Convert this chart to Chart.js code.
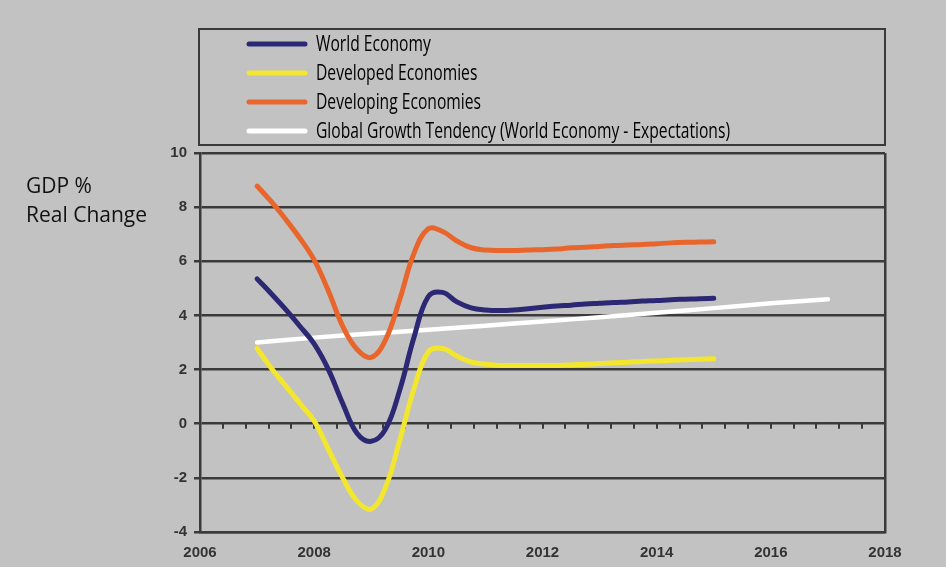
<!DOCTYPE html>
<html>
<head>
<meta charset="utf-8">
<script src="https://cdn.jsdelivr.net/npm/chart.js@4.4.1/dist/chart.umd.min.js"></script>
<style>
  html, body { margin: 0; padding: 0; background: #c2c2c2; }
  #wrap { width: 946px; height: 567px; }
</style>
</head>
<body>
<div id="wrap"><canvas id="c" width="946" height="567"></canvas></div>
<script>
// Quarterly sample points for the three GDP series
const years = [
  2007, 2007.25, 2007.5, 2007.75, 2008, 2008.25, 2008.5, 2008.75,
  2009, 2009.25, 2009.5, 2009.75, 2010, 2010.25, 2010.5, 2010.75,
  2011, 2011.25, 2011.5, 2011.75, 2012, 2012.25, 2012.5, 2012.75,
  2013, 2013.25, 2013.5, 2013.75, 2014, 2014.25, 2014.5, 2014.75, 2015
];
const worldEconomy = [
  5.35, 4.8, 4.22, 3.6, 2.95, 2.0, 0.75, -0.35,
  -0.65, -0.2, 1.25, 3.2, 4.7, 4.85, 4.5, 4.28,
  4.2, 4.18, 4.2, 4.25, 4.3, 4.35, 4.38, 4.42,
  4.45, 4.48, 4.5, 4.53, 4.55, 4.58, 4.6, 4.62, 4.63
];
const developedEconomies = [
  2.78, 2.05, 1.4, 0.75, 0.1, -0.95, -2.0, -2.85,
  -3.15, -2.35, -0.6, 1.3, 2.65, 2.78, 2.5, 2.28,
  2.2, 2.15, 2.15, 2.15, 2.15, 2.15, 2.17, 2.2,
  2.22, 2.25, 2.27, 2.3, 2.32, 2.34, 2.36, 2.38, 2.4
];
const developingEconomies = [
  8.78, 8.2, 7.55, 6.85, 6.05, 4.9, 3.6, 2.75,
  2.45, 3.1, 4.6, 6.3, 7.2, 7.1, 6.75, 6.5,
  6.42, 6.4, 6.4, 6.42, 6.43, 6.45, 6.5, 6.52,
  6.55, 6.58, 6.6, 6.62, 6.65, 6.68, 6.7, 6.71, 6.72
];
// Yearly expectation trend
const trendYears = [2007, 2008, 2009, 2010, 2011, 2012, 2013, 2014, 2015, 2016, 2017];
const globalTendency = [3.0, 3.18, 3.33, 3.47, 3.62, 3.78, 3.93, 4.1, 4.27, 4.45, 4.6];

const seriesLabels = [
  'World Economy',
  'Developed Economies',
  'Developing Economies',
  'Global Growth Tendency (World Economy - Expectations)'
];
const xTicks = [2006, 2008, 2010, 2012, 2014, 2016, 2018];
const yTicks = [-4, -2, 0, 2, 4, 6, 8, 10];
const axisTitle = ['GDP %', 'Real Change'];

const BG = '#c2c2c2';
const DARK = '#3a3a3a';

const toPoints = (xs, ys) => xs.map((x, i) => ({ x: x, y: ys[i] }));

const lineStyle = {
  borderWidth: 5,
  pointRadius: 0,
  tension: 0.4,
  fill: false,
  borderCapStyle: 'round',
  borderJoinStyle: 'round'
};

// Page background
const backgroundPlugin = {
  id: 'pageBackground',
  beforeDraw(chart) {
    const ctx = chart.ctx;
    ctx.save();
    ctx.fillStyle = BG;
    ctx.fillRect(0, 0, chart.width, chart.height);
    ctx.restore();
  }
};

// Small tick marks along the zero line, every 0.4 years
const zeroTicksPlugin = {
  id: 'zeroTicks',
  beforeDatasetsDraw(chart) {
    const xs = chart.scales.x, ys = chart.scales.y;
    const ctx = chart.ctx;
    const y0 = ys.getPixelForValue(0);
    ctx.save();
    ctx.strokeStyle = DARK;
    ctx.lineWidth = 2;
    for (let k = 1; k < 30; k++) {
      const v = 2006 + k * 0.4;
      if (v >= 2018) break;
      const px = Math.round(xs.getPixelForValue(v));
      ctx.beginPath();
      ctx.moveTo(px, y0);
      ctx.lineTo(px, y0 + 5);
      ctx.stroke();
    }
    ctx.restore();
  }
};

// Boxed legend above the plot and the vertical axis caption
const legendPlugin = {
  id: 'boxLegend',
  afterDraw(chart) {
    const ctx = chart.ctx;
    const area = chart.chartArea;
    ctx.save();
    // frame
    const bx = area.left - 1, by = 29, bw = area.right - area.left + 1, bh = 116;
    ctx.strokeStyle = DARK;
    ctx.lineWidth = 2;
    ctx.strokeRect(bx, by, bw, bh);

    ctx.font = '500 20px "Open Sans"';
    ctx.textBaseline = 'middle';
    ctx.fillStyle = '#000';
    const longest = ctx.measureText(seriesLabels[3]).width;
    const sx = 414 / longest;
    chart.data.datasets.forEach((ds, i) => {
      const cy = 44 + i * 29;
      ctx.strokeStyle = ds.borderColor;
      ctx.lineWidth = 5;
      ctx.lineCap = 'round';
      ctx.beginPath();
      ctx.moveTo(249, cy);
      ctx.lineTo(305, cy);
      ctx.stroke();
      ctx.save();
      ctx.translate(316, cy + 1);
      ctx.scale(sx, 1.1);
      ctx.fillText(ds.label, 0, 0);
      ctx.restore();
    });

    // axis caption
    ctx.font = '21px "Open Sans"';
    ctx.fillStyle = '#111';
    ctx.textBaseline = 'middle';
    ctx.fillText(axisTitle[0], 26, 187);
    ctx.fillText(axisTitle[1], 26, 216);
    ctx.restore();
  }
};

new Chart(document.getElementById('c'), {
  type: 'line',
  data: {
    datasets: [
      Object.assign({ label: seriesLabels[0], data: toPoints(years, worldEconomy), borderColor: '#2c2874' }, lineStyle),
      Object.assign({ label: seriesLabels[1], data: toPoints(years, developedEconomies), borderColor: '#f3e62e' }, lineStyle),
      Object.assign({ label: seriesLabels[2], data: toPoints(years, developingEconomies), borderColor: '#e8662c' }, lineStyle),
      Object.assign({ label: seriesLabels[3], data: toPoints(trendYears, globalTendency), borderColor: '#ffffff' }, lineStyle, { borderWidth: 4.5 })
    ]
  },
  options: {
    responsive: false,
    animation: false,
    layout: { padding: { top: 153, right: 61, left: 0, bottom: 0 } },
    plugins: {
      legend: { display: false },
      tooltip: { enabled: false },
      title: { display: false }
    },
    scales: {
      x: {
        type: 'linear',
        min: xTicks[0],
        max: xTicks[xTicks.length - 1],
        afterBuildTicks(scale) { scale.ticks = xTicks.map(v => ({ value: v })); },
        afterFit(scale) { scale.height = 35; },
        ticks: {
          callback: v => String(v),
          color: '#333',
          font: { family: '"Liberation Sans", Arial', size: 15, weight: 'bold' },
          padding: 12,
          maxRotation: 0,
          autoSkip: false
        },
        grid: {
          drawTicks: false,
          lineWidth: 2.5,
          color: c => (c.tick && c.tick.value === xTicks[xTicks.length - 1]) ? DARK : 'rgba(0,0,0,0)'
        },
        border: { display: true, color: DARK, width: 2.5 }
      },
      y: {
        min: yTicks[0],
        max: yTicks[yTicks.length - 1],
        afterBuildTicks(scale) { scale.ticks = yTicks.map(v => ({ value: v })); },
        afterFit(scale) { scale.width = 200; },
        ticks: {
          color: '#333',
          font: { family: '"Liberation Sans", Arial', size: 15, weight: 'bold' },
          padding: 7
        },
        grid: { color: DARK, lineWidth: 2.5, tickLength: 6, drawTicks: true },
        border: { display: true, color: DARK, width: 2.5 }
      }
    }
  },
  plugins: [backgroundPlugin, zeroTicksPlugin, legendPlugin]
});
</script>
</body>
</html>
